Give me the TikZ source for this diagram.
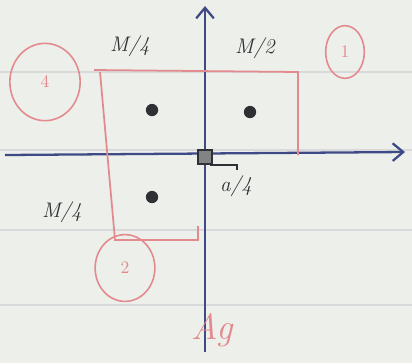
\documentclass[tikz,border=0pt]{standalone}
\usepackage{amsmath, amssymb}
\usepackage{tikz}
\usetikzlibrary{positioning, shapes.geometric, arrows.meta, calc}
\usepackage{xcolor}
\definecolor{paper}{HTML}{EDEFEA}
\definecolor{ruling}{HTML}{D9D9DC}
\definecolor{axisblue}{HTML}{3E4A86}
\definecolor{penred}{HTML}{E38A8E}
\definecolor{pencil}{HTML}{2E3033}

\begin{document}
\begin{tikzpicture}[
    x=0.02cm, y=-0.02cm,
    axis/.style={draw=axisblue, line width=1.3pt, -{Straight Barb[length=6pt, width=10pt]}},
    region/.style={draw=penred, line width=1pt},
    tag/.style={ellipse, draw=penred, line width=0.9pt, text=penred, inner sep=1pt},
    point/.style={circle, fill=pencil, inner sep=0pt, minimum size=7pt},
    share/.style={text=pencil, font=\large\itshape, inner sep=1pt}
]
    % paper and ruling
    \fill[paper] (0,0) rectangle (412,363);
    \useasboundingbox (0,0) rectangle (412,363);
    \foreach \y in {72, 150, 230, 305}
        \draw[ruling, line width=1pt] (0,\y) -- (412,\y);

    % axes
    \coordinate (xl) at (5,155);
    \coordinate (xr) at (405,152);
    \coordinate (yb) at (205,352);
    \coordinate (yt) at (205,6);
    \draw[axis] (xl) -- (xr);
    \draw[axis] (yb) -- (yt);
    \node[draw=pencil, fill=pencil!60, line width=1.2pt, minimum size=8pt, inner sep=0pt] (o) at (205,157) {};

    % red regions
    \coordinate (r1) at (205,72);
    \coordinate (r2) at (298,72);
    \coordinate (r3) at (298,155);
    \coordinate (l1) at (94,70);
    \coordinate (l2) at (100,72);
    \coordinate (l3) at (115,240);
    \coordinate (l4) at (198,240);
    \coordinate (l5) at (198,226);
    \draw[region] (l1) -- (r2) -- (r3);
    \draw[region] (l2) -- (l3) -- (l4) -- (l5);

    % centres
    \node[point] (c1) at (250,112) {};
    \node[point] (c4) at (152,110) {};
    \node[point] (c2) at (152,197) {};

    % shares
    \node[share] (m4) at (130,46) {M/4};
    \node[share] (m2) at (255,48) {M/2};
    \node[share] (m4b) at (62,212) {M/4};
    \node[share] (a4) at (236,186) {a/4};
    \coordinate (b1) at (210,165);
    \coordinate (b2) at (237,165);
    \coordinate (b3) at (237,170);
    \draw[pencil, line width=0.8pt] (b1) -- (b2) -- (b3);

    % circled numbers
    \node[tag, minimum width=40pt, minimum height=44pt] (n4) at (45,82) {4};
    \node[tag, minimum width=22pt, minimum height=30pt] (n1) at (345,52) {1};
    \node[tag, minimum width=34pt, minimum height=38pt] (n2) at (125,268) {2};
    \node[text=penred, font=\huge\itshape] (ag) at (212,330) {Ag};
\end{tikzpicture}
\end{document}
